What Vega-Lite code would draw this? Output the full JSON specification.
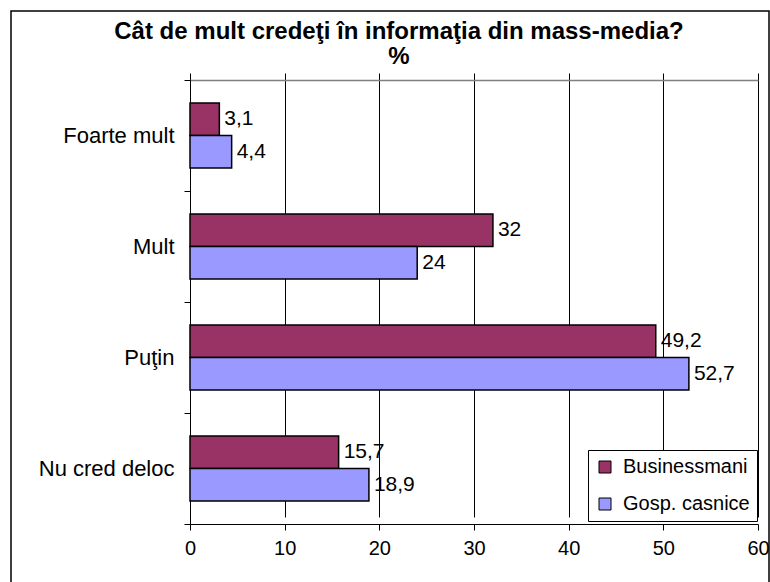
{
  "$schema": "https://vega.github.io/schema/vega-lite/v6.json",
  "autosize": "none",
  "width": 758,
  "height": 575,
  "padding": {"left": 11, "top": 11, "right": 1, "bottom": -4},
  "background": "white",
  "title": {
    "text": ["Cât de mult credeţi în informaţia din mass-media?", "%"],
    "font": "Liberation Sans",
    "fontSize": 24,
    "fontWeight": "bold",
    "color": "black",
    "anchor": "middle",
    "dx": 9,
    "dy": 69,
    "offset": 0,
    "lineHeight": 25
  },
  "data": {
    "values": [
      {"cat": "Foarte mult", "series": "Businessmani", "value": 3.1},
      {"cat": "Foarte mult", "series": "Gosp. casnice", "value": 4.4},
      {"cat": "Mult", "series": "Businessmani", "value": 32},
      {"cat": "Mult", "series": "Gosp. casnice", "value": 24},
      {"cat": "Puţin", "series": "Businessmani", "value": 49.2},
      {"cat": "Puţin", "series": "Gosp. casnice", "value": 52.7},
      {"cat": "Nu cred deloc", "series": "Businessmani", "value": 15.7},
      {"cat": "Nu cred deloc", "series": "Gosp. casnice", "value": 18.9}
    ]
  },
  "encoding": {
    "y": {
      "field": "cat",
      "type": "nominal",
      "sort": ["Foarte mult", "Mult", "Puţin", "Nu cred deloc"],
      "scale": {"paddingInner": 0, "paddingOuter": 0, "range": [69, 513]},
      "axis": {
        "title": null,
        "offset": -179,
        "tickBand": "extent",
        "tickSize": 6,
        "tickColor": "black",
        "domainColor": "black",
        "labelFont": "Liberation Sans",
        "labelFontSize": 22,
        "labelColor": "black",
        "labelPadding": 10,
        "labelLimit": 300,
        "grid": false
      }
    },
    "yOffset": {
      "field": "series",
      "type": "nominal",
      "sort": ["Businessmani", "Gosp. casnice"],
      "scale": {"paddingInner": 0, "paddingOuter": 0.708}
    },
    "x": {
      "field": "value",
      "type": "quantitative",
      "scale": {"domain": [0, 60], "nice": false, "range": [179, 747]}
    }
  },
  "layer": [
    {
      "mark": {"type": "bar", "stroke": "black", "strokeWidth": 1.5},
      "encoding": {
        "x": {
          "field": "value",
          "type": "quantitative",
          "axis": {
            "title": null,
            "orient": "bottom",
            "offset": -62,
            "values": [0, 10, 20, 30, 40, 50, 60],
            "tickSize": 6,
            "tickColor": "black",
            "domainColor": "black",
            "grid": true,
            "gridColor": "black",
            "gridOpacity": 1,
            "labelFont": "Liberation Sans",
            "labelFontSize": 20,
            "labelColor": "black",
            "labelPadding": 8,
            "labelFlush": false
          }
        },
        "color": {
          "field": "series",
          "type": "nominal",
          "sort": ["Businessmani", "Gosp. casnice"],
          "scale": {"domain": ["Businessmani", "Gosp. casnice"], "range": ["#993366", "#9999FF"]},
          "legend": {
            "title": null,
            "orient": "none",
            "legendX": 577,
            "legendY": 439,
            "strokeColor": "black",
            "fillColor": "white",
            "padding": 7,
            "symbolType": "square",
            "symbolSize": 144,
            "symbolStrokeColor": "black",
            "symbolStrokeWidth": 1,
            "symbolOpacity": 1,
            "labelFont": "Liberation Sans",
            "labelFontSize": 20,
            "labelColor": "black",
            "labelOffset": 8,
            "rowPadding": 17,
            "labelLimit": 300
          }
        }
      }
    },
    {
      "mark": {"type": "text", "align": "left", "baseline": "middle", "dx": 5, "font": "Liberation Sans", "fontSize": 21, "color": "black"},
      "encoding": {
        "x": {
          "field": "value",
          "type": "quantitative",
          "axis": {
            "title": null,
            "orient": "top",
            "offset": -69,
            "labels": false,
            "ticks": false,
            "grid": false,
            "domainColor": "#808080",
            "domainWidth": 1.5
          }
        },
        "text": {"field": "value", "type": "quantitative", "format": ".1~f"}
      }
    }
  ],
  "resolve": {"axis": {"x": "independent"}},
  "config": {
    "locale": {
      "number": {"decimal": ",", "thousands": ".", "grouping": [3], "currency": ["", " €"]}
    },
    "view": {"stroke": "black", "strokeWidth": 1.5}
  }
}
